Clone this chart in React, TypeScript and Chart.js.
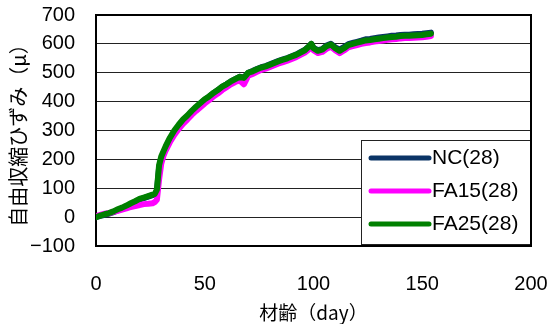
import React, { useEffect, useRef } from "react";
import { Chart, registerables } from "chart.js";

Chart.register(...registerables);

const days = [0, 2, 4, 6, 8, 10, 12, 14, 16, 18, 20, 22, 24, 26, 27, 28, 29, 30, 31, 32, 34, 36, 38, 40, 42, 44, 46, 48, 50, 52, 54, 56, 58, 60, 62, 64, 66, 68, 70, 72, 74, 76, 78, 80, 82, 84, 86, 88, 90, 92, 94, 96, 98, 99, 100, 102, 104, 106, 108, 110, 112, 114, 116, 118, 120, 122, 124, 126, 128, 130, 132, 134, 136, 138, 140, 142, 144, 146, 148, 150, 152, 154];

const ncValues = [0, 4, 8, 12, 17, 24, 30, 37, 45, 52, 60, 66, 71, 76, 78, 90, 170, 203, 222, 238, 268, 294, 315, 334, 349, 365, 380, 393, 406, 417, 429, 440, 451, 460, 470, 478, 486, 483, 500, 506, 513, 519, 523, 529, 535, 541, 546, 551, 557, 563, 571, 579, 592, 600, 586, 578, 582, 594, 600, 588, 580, 589, 599, 603, 607, 611, 616, 617, 620, 622, 624, 626, 628, 629, 631, 632, 632, 633, 634, 635, 637, 639];

const fa15Values = [3, 8, 12, 14, 18, 22, 26, 30, 35, 38, 42, 45, 46, 48, 52, 60, 130, 185, 212, 230, 260, 285, 305, 323, 338, 354, 368, 381, 394, 405, 418, 428, 440, 450, 460, 468, 474, 460, 490, 496, 503, 510, 514, 520, 526, 532, 537, 542, 548, 554, 562, 570, 582, 590, 578, 568, 572, 583, 590, 578, 568, 577, 588, 592, 596, 600, 603, 605, 608, 610, 612, 614, 616, 617, 619, 620, 620, 621, 622, 623, 625, 627];

const fa25Values = [0, 5, 10, 14, 20, 27, 33, 40, 48, 55, 63, 68, 73, 78, 80, 95, 180, 210, 228, 245, 275, 300, 320, 338, 352, 368, 382, 395, 408, 418, 430, 440, 452, 460, 470, 478, 486, 482, 500, 505, 512, 518, 522, 528, 534, 540, 545, 550, 556, 562, 570, 578, 592, 600, 585, 576, 580, 592, 598, 585, 576, 585, 596, 600, 604, 608, 612, 613, 616, 618, 620, 622, 624, 625, 627, 628, 628, 629, 630, 631, 633, 635];

const seriesLabels = ["NC(28)", "FA15(28)", "FA25(28)"];
const seriesColors = ["#0b3466", "#ff00ff", "#008000"];
const xTitle = "材齢（day）";
const yTitle = "自由収縮ひずみ（μ）";
const xMin = 0, xMax = 200, xStep = 50;
const yMin = -100, yMax = 700, yStep = 100;

const FONT = "'Liberation Sans', Arial, sans-serif";
const CJK = "'Noto Sans CJK JP', sans-serif";

const toPoints = (vals: number[]) => vals.map((v, i) => ({ x: days[i], y: v }));

const framePlugin = {
  id: "frame",
  beforeDatasetsDraw(chart: any) {
    const { ctx, chartArea: a } = chart;
    ctx.save();
    ctx.strokeStyle = "#000";
    ctx.lineWidth = 2;
    ctx.strokeRect(a.left, a.top, a.right - a.left, a.bottom - a.top);
    ctx.restore();
  },
  afterDatasetsDraw(chart: any) {
    const { ctx, chartArea: a } = chart;
    const w = 170, h = 104;
    const x0 = a.right - w, y0 = a.bottom - h - 2;
    ctx.save();
    ctx.fillStyle = "#fff";
    ctx.fillRect(x0, y0, w, h);
    ctx.strokeStyle = "#222";
    ctx.lineWidth = 1;
    ctx.strokeRect(x0 + 0.5, y0 + 0.5, w, h);
    ctx.font = `21px ${FONT}`;
    ctx.textBaseline = "middle";
    ctx.textAlign = "left";
    seriesLabels.forEach((lab, i) => {
      const cy = y0 + 18 + i * 33;
      ctx.strokeStyle = seriesColors[i];
      ctx.lineWidth = 5;
      ctx.lineCap = "round";
      ctx.beginPath();
      ctx.moveTo(x0 + 10, cy);
      ctx.lineTo(x0 + 68, cy);
      ctx.stroke();
      ctx.fillStyle = "#000";
      ctx.fillText(lab, x0 + 71, cy);
    });
    ctx.strokeStyle = "#000";
    ctx.lineWidth = 2;
    ctx.lineCap = "butt";
    ctx.beginPath();
    ctx.moveTo(a.right, a.top);
    ctx.lineTo(a.right, a.bottom);
    ctx.lineTo(a.left, a.bottom);
    ctx.stroke();
    ctx.restore();
  },
};

export default function App() {
  const ref = useRef<HTMLCanvasElement | null>(null);
  useEffect(() => {
    if (!ref.current) return;
    const valueSets = [ncValues, fa15Values, fa25Values];
    const chart = new Chart(ref.current, {
      type: "line",
      data: {
        datasets: valueSets.map((vals, i) => ({
          label: seriesLabels[i],
          data: toPoints(vals),
          borderColor: seriesColors[i],
          backgroundColor: seriesColors[i],
          borderWidth: 6,
          pointRadius: 0,
          tension: 0,
          borderJoinStyle: "round" as const,
          borderCapStyle: "round" as const,
          order: 3 - i,
        })),
      },
      options: {
        responsive: false,
        animation: false,
        layout: { padding: { top: 15, right: 19, left: 0, bottom: 0 } },
        plugins: { legend: { display: false }, tooltip: { enabled: false } },
        scales: {
          x: {
            type: "linear",
            min: xMin,
            max: xMax,
            ticks: { stepSize: xStep, autoSkip: false, color: "#000", font: { family: FONT, size: 20 }, padding: 26, maxRotation: 0 },
            grid: { display: false, drawTicks: false },
            border: { display: false },
            title: { display: true, text: xTitle, color: "#000", font: { family: CJK, size: 19 }, padding: { top: 0, bottom: 0 } },
            afterFit: (s: any) => { s.height = 78; s.paddingLeft = 0; s.paddingRight = 0; },
          },
          y: {
            type: "linear",
            min: yMin,
            max: yMax,
            ticks: {
              stepSize: yStep,
              autoSkip: false,
              color: "#000",
              font: { family: FONT, size: 20 },
              padding: 21,
              callback: (v: any) => String(v).replace("-", "\u2212"),
            },
            grid: { color: "#222", lineWidth: 1, drawTicks: false },
            border: { display: false },
            title: { display: true, text: yTitle, color: "#000", font: { family: CJK, size: 20 }, padding: { top: 6, bottom: 0 } },
            afterFit: (s: any) => { s.width = 96; s.paddingTop = 0; s.paddingBottom = 0; },
          },
        },
      },
      plugins: [framePlugin],
    });
    return () => chart.destroy();
  }, []);
  return (
    <div style={{ position: "fixed", left: 0, top: 0, width: 550, height: 324, background: "#fff" }}>
      <canvas ref={ref} width={550} height={324} style={{ display: "block" }} />
    </div>
  );
}
